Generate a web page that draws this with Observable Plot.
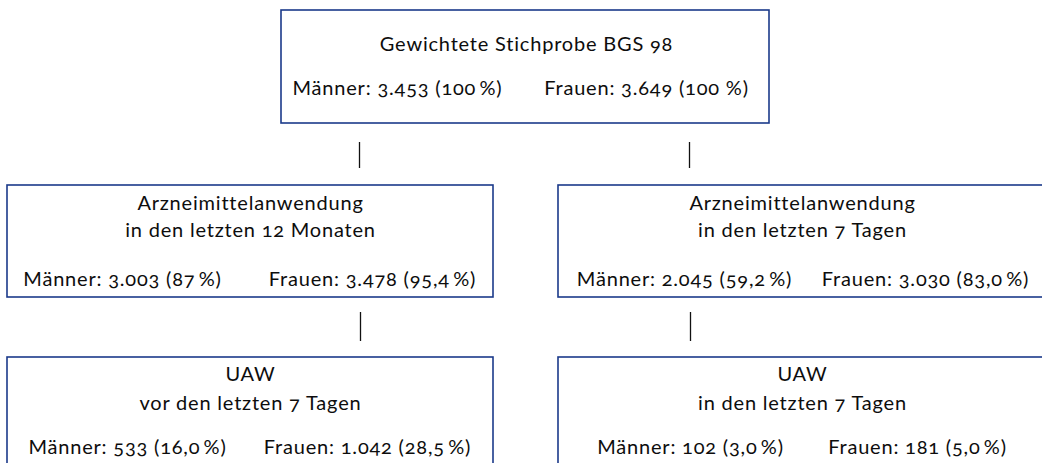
<!DOCTYPE html>
<html>
<head>
<meta charset="utf-8">
<script src="https://cdn.jsdelivr.net/npm/d3@7"></script>
<script src="https://cdn.jsdelivr.net/npm/@observablehq/plot@0.6"></script>
<style>
  html, body { margin: 0; padding: 0; background: #fff; }
  svg text { font-variant-numeric: oldstyle-nums; letter-spacing: 0.8px; }
</style>
</head>
<body>
<div id="chart"></div>
<script>
// ---- data ----
const boxIds = ["top", "midL", "midR", "botL", "botR"];
const titleLines = [
  ["Gewichtete Stichprobe BGS 98"],
  ["Arzneimittelanwendung", "in den letzten 12 Monaten"],
  ["Arzneimittelanwendung", "in den letzten 7 Tagen"],
  ["UAW", "vor den letzten 7 Tagen"],
  ["UAW", "in den letzten 7 Tagen"]
];
const maennerN = ["3.453", "3.003", "2.045", "533", "102"];
const maennerPct = ["100\u2009%", "87\u2009%", "59,2\u2009%", "16,0\u2009%", "3,0\u2009%"];
const frauenN = ["3.649", "3.478", "3.030", "1.042", "181"];
const frauenPct = ["100 %", "95,4\u2009%", "83,0\u2009%", "28,5\u2009%", "5,0\u2009%"];
const links = [["top", "midL"], ["top", "midR"], ["midL", "botL"], ["midR", "botR"]];

// ---- layout (positions only) ----
const W = 1042, H = 463;
const boxRect = {
  top:  {x1: 281, x2: 769,  y1: 10,  y2: 123},
  midL: {x1: 7,   x2: 493,  y1: 185, y2: 297},
  midR: {x1: 558, x2: 1050, y1: 185, y2: 297},
  botL: {x1: 7,   x2: 493,  y1: 357, y2: 480},
  botR: {x1: 558, x2: 1050, y1: 357, y2: 480}
};
const titleX = {top: 526, midL: 250, midR: 802, botL: 250, botR: 802};
const titleY = {top: [44], midL: [203, 230], midR: [203, 230], botL: [374, 403], botR: [374, 403]};
const statY = {top: 88, midL: 279, midR: 279, botL: 447, botR: 447};
const mX = {top: 397, midL: 122, midR: 684, botL: 127, botR: 690};
const fX = {top: 646, midL: 372, midR: 925, botL: 367, botR: 917};
const linkGeom = [
  {x: 359, y1: 142, y2: 168},
  {x: 689, y1: 142, y2: 168},
  {x: 360, y1: 312, y2: 341},
  {x: 690, y1: 312, y2: 341}
];

// ---- build tables ----
const boxes = boxIds.map(id => ({id, ...boxRect[id]}));
const titles = boxIds.flatMap((id, i) => titleLines[i].map((t, j) => ({text: t, x: titleX[id], y: titleY[id][j]})));
const stats = boxIds.flatMap((id, i) => [
  {text: `Männer: ${maennerN[i]} (${maennerPct[i]})`, x: mX[id], y: statY[id]},
  {text: `Frauen: ${frauenN[i]} (${frauenPct[i]})`, x: fX[id], y: statY[id]}
]);
const connectors = links.map((l, i) => ({from: l[0], to: l[1], ...linkGeom[i]}));

const font = "Lato, 'Noto Sans', sans-serif";
const chart = Plot.plot({
  width: W,
  height: H,
  margin: 0,
  x: {domain: [0, W], axis: null},
  y: {domain: [0, H], axis: null, reverse: true},
  style: {fontFamily: font, background: "#fff"},
  marks: [
    Plot.rect(boxes, {x1: "x1", x2: "x2", y1: "y1", y2: "y2", fill: "none", stroke: "#1b3a8a", strokeWidth: 1.6}),
    Plot.ruleX(connectors, {x: "x", y1: "y1", y2: "y2", stroke: "#111", strokeWidth: 1.3}),
    Plot.text(titles, {x: "x", y: "y", text: "text", fontSize: 20, fill: "#0d0d0d", textAnchor: "middle"}),
    Plot.text(stats, {x: "x", y: "y", text: "text", fontSize: 20, fill: "#0d0d0d", textAnchor: "middle"})
  ]
});
document.getElementById("chart").appendChild(chart);
</script>
</body>
</html>
